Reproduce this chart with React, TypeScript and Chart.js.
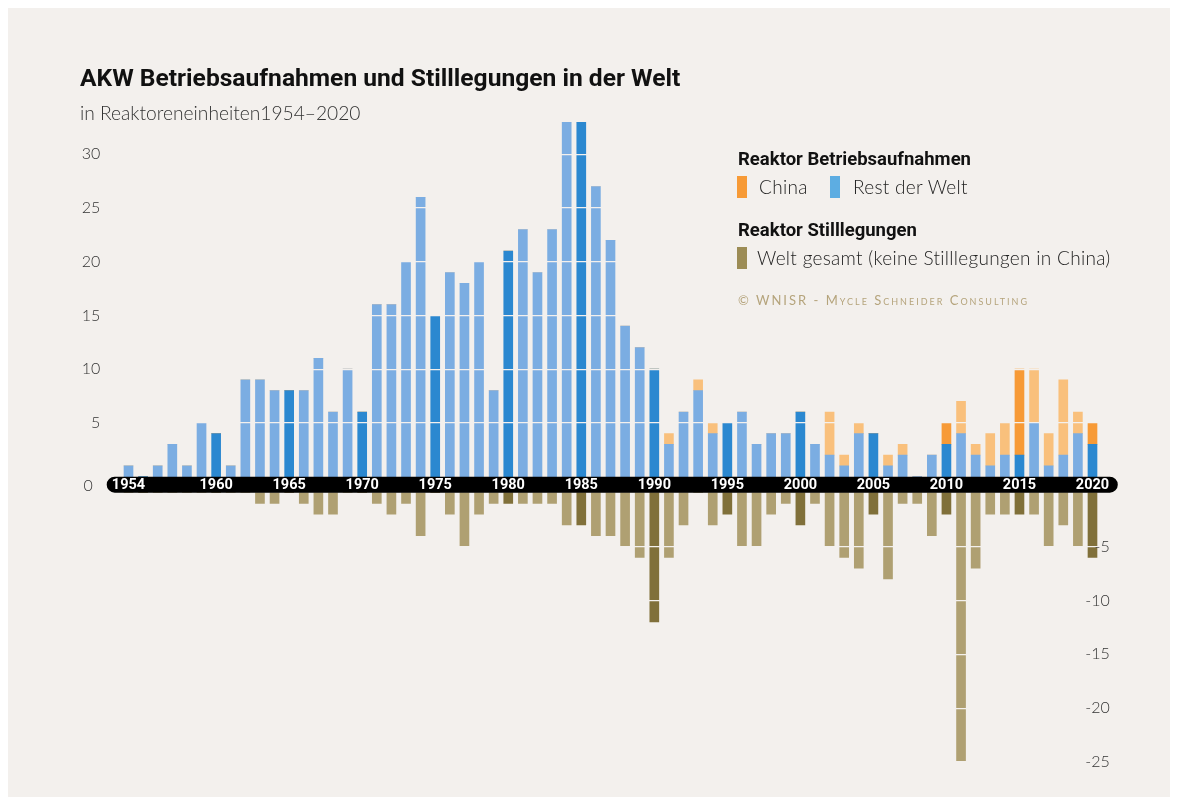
import React, { useEffect, useRef } from "react";
import { Chart, registerables } from "chart.js";

Chart.register(...registerables);

const years = [
  "1954", "1955", "1956", "1957", "1958", "1959", "1960", "1961", "1962", "1963",
  "1964", "1965", "1966", "1967", "1968", "1969", "1970", "1971", "1972", "1973",
  "1974", "1975", "1976", "1977", "1978", "1979", "1980", "1981", "1982", "1983",
  "1984", "1985", "1986", "1987", "1988", "1989", "1990", "1991", "1992", "1993",
  "1994", "1995", "1996", "1997", "1998", "1999", "2000", "2001", "2002", "2003",
  "2004", "2005", "2006", "2007", "2008", "2009", "2010", "2011", "2012", "2013",
  "2014", "2015", "2016", "2017", "2018", "2019", "2020",
];

const restOfWorld = [
  1, 0, 1, 3, 1, 5, 4, 1, 9, 9,
  8, 8, 8, 11, 6, 10, 6, 16, 16, 20,
  26, 15, 19, 18, 20, 8, 21, 23, 19, 23,
  33, 33, 27, 22, 14, 12, 10, 3, 6, 8,
  4, 5, 6, 3, 4, 4, 6, 3, 2, 1,
  4, 4, 1, 2, 0, 2, 3, 4, 2, 1,
  2, 2, 5, 1, 2, 4, 3,
];

const china = [
  0, 0, 0, 0, 0, 0, 0, 0, 0, 0,
  0, 0, 0, 0, 0, 0, 0, 0, 0, 0,
  0, 0, 0, 0, 0, 0, 0, 0, 0, 0,
  0, 0, 0, 0, 0, 0, 0, 1, 0, 1,
  1, 0, 0, 0, 0, 0, 0, 0, 4, 1,
  1, 0, 1, 1, 0, 0, 2, 3, 1, 3,
  3, 8, 5, 3, 7, 2, 2,
];

const closures = [
  0, 0, 0, 0, 0, 0, 0, 0, 0, -1,
  -1, 0, -1, -2, -2, 0, 0, -1, -2, -1,
  -4, 0, -2, -5, -2, -1, -1, -1, -1, -1,
  -3, -3, -4, -4, -5, -6, -12, -6, -3, 0,
  -3, -2, -5, -5, -2, -1, -3, -1, -5, -6,
  -7, -2, -8, -1, -1, -4, -2, -25, -7, -2,
  -2, -2, -2, -5, -3, -5, -6,
];

const bandYears = [
  "1954", "1960", "1965", "1970", "1975", "1980", "1985",
  "1990", "1995", "2000", "2005", "2010", "2015", "2020",
];

const positiveTicks = [5, 10, 15, 20, 25, 30];
const negativeTicks = [-5, -10, -15, -20, -25];

const BG = "#f3f0ed";
const BLUE_LIGHT = "#7badE2";
const BLUE_DARK = "#2b88d0";
const ORANGE_LIGHT = "#f9c07c";
const ORANGE_DARK = "#f79a36";
const OLIVE_LIGHT = "#afa072";
const OLIVE_DARK = "#80703a";

const isHighlight = (y: string) => Number(y) % 5 === 0;

const bandPlugin = {
  id: "yearBand",
  afterDraw(chart: any) {
    const { ctx, chartArea, scales } = chart;
    const x = scales.x;
    const top = scales.y.getPixelForValue(0);
    const bottom = scales.y2.getPixelForValue(0);
    const left = chartArea.left - 14.5;
    const right = chartArea.right + 18;
    const r = (bottom - top) / 2;
    const mid = (top + bottom) / 2;
    ctx.save();
    ctx.fillStyle = "#000";
    ctx.beginPath();
    ctx.moveTo(left + r, top);
    ctx.lineTo(right - r, top);
    ctx.arc(right - r, mid, r, -Math.PI / 2, Math.PI / 2);
    ctx.lineTo(left + r, bottom);
    ctx.arc(left + r, mid, r, Math.PI / 2, (3 * Math.PI) / 2);
    ctx.closePath();
    ctx.fill();
    ctx.fillStyle = "#fff";
    ctx.font = "bold 14.5px Roboto";
    ctx.textAlign = "center";
    ctx.textBaseline = "middle";
    bandYears.forEach((label) => {
      const i = years.indexOf(label);
      ctx.fillText(label, x.getPixelForValue(i), mid + 1);
    });
    ctx.fillStyle = "#333";
    ctx.font = "300 16px Lato";
    ctx.fillText("0", chartArea.left - 33, mid + 1);
    ctx.restore();
  },
};

const tickFont = { family: "Lato", size: 16, weight: 300 as any };

export default function App() {
  const canvasRef = useRef<HTMLCanvasElement | null>(null);

  useEffect(() => {
    if (!canvasRef.current) return;
    const chart = new Chart(canvasRef.current, {
      type: "bar",
      data: {
        labels: years,
        datasets: [
          {
            label: "Rest der Welt",
            data: restOfWorld,
            yAxisID: "y",
            backgroundColor: years.map((y) => (isHighlight(y) ? BLUE_DARK : BLUE_LIGHT)),
            barThickness: 9,
            borderWidth: 0,
          },
          {
            label: "China",
            data: china,
            yAxisID: "y",
            backgroundColor: years.map((y) => (isHighlight(y) ? ORANGE_DARK : ORANGE_LIGHT)),
            barThickness: 9,
            borderWidth: 0,
          },
          {
            label: "Welt gesamt (keine Stilllegungen in China)",
            data: closures,
            yAxisID: "y2",
            backgroundColor: years.map((y) => (isHighlight(y) ? OLIVE_DARK : OLIVE_LIGHT)),
            barThickness: 9,
            borderWidth: 0,
          },
        ],
      },
      options: {
        responsive: false,
        animation: false,
        layout: { padding: { left: 0, right: 60.2, top: 114, bottom: 35 } },
        plugins: {
          legend: { display: false },
          tooltip: { enabled: false },
          title: { display: false },
        },
        scales: {
          x: {
            type: "category",
            stacked: true,
            display: false,
            offset: true,
          },
          y: {
            position: "left",
            stacked: true,
            min: -26.55,
            max: 33,
            afterBuildTicks: (s: any) => {
              s.ticks = positiveTicks.map((v) => ({ value: v }));
            },
            afterFit: (s: any) => {
              s.width = 113.2;
            },
            grid: { z: 1, color: BG, lineWidth: 1.2, drawTicks: false },
            border: { display: false },
            ticks: { padding: 21, color: "#333", font: tickFont },
          },
          y2: {
            position: "right",
            min: -25,
            max: 34.41,
            afterBuildTicks: (s: any) => {
              s.ticks = negativeTicks.map((v) => ({ value: v }));
            },
            afterFit: (s: any) => {
              s.width = 10;
            },
            grid: { z: 1, color: BG, lineWidth: 1.2, drawTicks: false },
            border: { display: false },
            ticks: { z: 2, mirror: true, padding: 10, crossAlign: "near", color: "#333", font: tickFont },
          },
        },
      } as any,
      plugins: [bandPlugin],
    });
    return () => chart.destroy();
  }, []);

  const light = "Lato, 'Open Sans', sans-serif";
  const bold = "Roboto, 'Noto Sans', sans-serif";
  const swatch = (color: string, left: number, top: number) => (
    <div style={{ position: "absolute", left, top, width: 10, height: 22, background: color }} />
  );
  const legendText = {
    position: "absolute" as const,
    fontFamily: light,
    fontWeight: 300,
    fontSize: 19,
    letterSpacing: 0.3,
    lineHeight: "20px",
    color: "#222",
    whiteSpace: "nowrap" as const,
  };
  const heading = {
    position: "absolute" as const,
    fontFamily: bold,
    fontWeight: 700,
    fontSize: 18.5,
    lineHeight: "18px",
    color: "#111",
    whiteSpace: "nowrap" as const,
  };

  return (
    <div style={{ position: "relative", width: 1162, height: 789, background: BG, overflow: "hidden" }}>
      <canvas ref={canvasRef} width={1162} height={789} style={{ position: "absolute", left: 0, top: 0 }} />
      <div style={{ position: "absolute", left: 72, top: 56.5, fontFamily: bold, fontWeight: 700, fontSize: 24.6, lineHeight: "25px", color: "#111", whiteSpace: "nowrap" }}>
        AKW Betriebsaufnahmen und Stilllegungen in der Welt
      </div>
      <div style={{ position: "absolute", left: 72, top: 94.5, fontFamily: light, fontWeight: 300, fontSize: 19.2, lineHeight: "20px", color: "#333", whiteSpace: "nowrap" }}>
        in Reaktoreneinheiten1954–2020
      </div>
      <div style={{ ...heading, left: 730, top: 142 }}>Reaktor Betriebsaufnahmen</div>
      {swatch(ORANGE_DARK, 729, 168)}
      <div style={{ ...legendText, left: 751, top: 169 }}>China</div>
      {swatch("#5dade2", 822, 168)}
      <div style={{ ...legendText, left: 845, top: 169 }}>Rest der Welt</div>
      <div style={{ ...heading, left: 730, top: 213 }}>Reaktor Stilllegungen</div>
      {swatch("#9c8c55", 729, 239)}
      <div style={{ ...legendText, left: 749, top: 240 }}>Welt gesamt (keine Stilllegungen in China)</div>
      <div style={{ position: "absolute", left: 730, top: 285, fontFamily: light, fontWeight: 400, fontSize: 13, lineHeight: "14px", color: "#b5a47c", fontVariant: "small-caps", letterSpacing: 2, whiteSpace: "nowrap" }}>
        © WNISR - Mycle Schneider Consulting
      </div>
    </div>
  );
}
